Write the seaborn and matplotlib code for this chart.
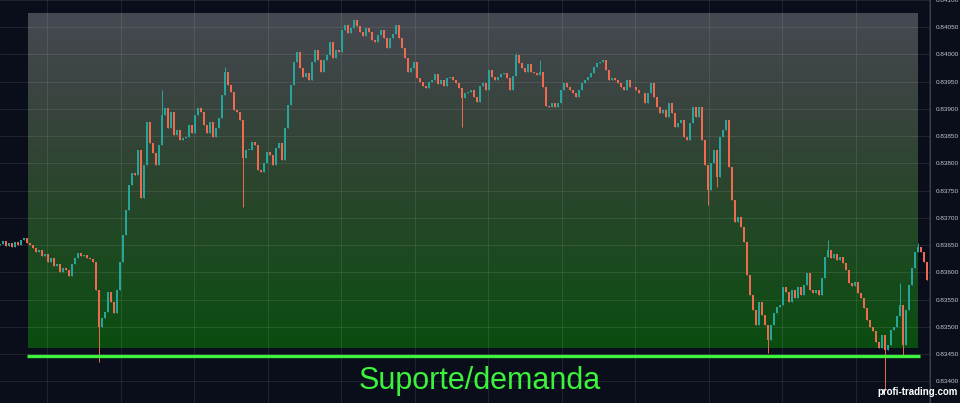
import numpy as np
import pandas as pd
import matplotlib
matplotlib.use("Agg")
import matplotlib.pyplot as plt
import matplotlib.ticker as mtick
from matplotlib.colors import LinearSegmentedColormap
import seaborn as sns

# closing prices, in 1e-5 units (one candle every bar)
closes = [
    83652, 83658, 83649, 83654, 83647, 83656, 83650, 83660, 83663, 83654,
    83650, 83645, 83638, 83641, 83630, 83634,
    83619, 83627, 83612, 83616, 83601, 83608, 83605, 83594, 83616, 83627,
    83636, 83630, 83632, 83627, 83625, 83619,
    83568, 83500, 83517, 83528, 83564, 83546, 83526, 83568, 83619, 83669,
    83715, 83761, 83783, 83779, 83825, 83737, 83797, 83876, 83838, 83819,
    83797, 83834, 83889, 83902, 83865, 83895, 83852, 83861, 83843, 83847,
    83849, 83871, 83856, 83889, 83902, 83895, 83871, 83856, 83876, 83849,
    83865, 83883, 83926, 83968, 83944, 83931, 83898, 83895, 83880, 83810,
    83825, 83825, 83839, 83834, 83788, 83784, 83801, 83821, 83816, 83797,
    83828, 83838, 83806, 83865, 83907, 83944, 83986, 84005, 83975, 83959,
    83966, 83953, 83986, 84008, 83990, 83968, 83990, 83999, 84023, 83994,
    84008, 84005, 84045, 84054, 84039, 84049, 84063, 84052, 84041, 84034,
    84049, 84041, 84027, 84023, 84036, 84045, 84030, 84012, 84030, 84038,
    84054, 84030, 84012, 83994, 83968, 83975, 83986, 83957, 83950, 83942,
    83939, 83950, 83953, 83964, 83946, 83953, 83942, 83957, 83959, 83953,
    83948, 83939, 83920, 83929, 83931, 83935, 83922, 83913, 83942, 83948,
    83935, 83972, 83959, 83953, 83959, 83964, 83966, 83957, 83935, 83961,
    83999, 83984, 83975, 83968, 83983, 83968, 83966, 83962, 83968, 83940,
    83905, 83904, 83911, 83904, 83911, 83935, 83948, 83940, 83935, 83929,
    83922, 83935, 83948, 83953, 83959, 83966, 83977, 83984, 83986, 83990,
    83972, 83953, 83957, 83953, 83948, 83940, 83935, 83953, 83940, 83940,
    83935, 83929, 83929, 83911, 83929, 83948, 83922, 83904, 83893, 83898,
    83885, 83911, 83893, 83867, 83874, 83880, 83849, 83843, 83874, 83904,
    83885, 83904, 83843, 83797, 83751, 83801, 83825, 83775, 83849, 83861,
    83880, 83794, 83733, 83693, 83702, 83684, 83656, 83595, 83559, 83531,
    83504, 83546, 83522, 83504, 83476, 83504, 83526, 83537, 83540, 83573,
    83564, 83546, 83568, 83553, 83573, 83559, 83577, 83599, 83568, 83562,
    83568, 83559, 83590, 83628, 83641, 83627, 83634, 83623, 83628, 83617,
    83605, 83581, 83575, 83582, 83562, 83553, 83535, 83513, 83500, 83493,
    83472, 83461, 83485, 83458, 83467, 83494, 83500, 83520, 83540, 83467,
    83531, 83577, 83608, 83638, 83647, 83638, 83619, 83586,
]
first_open = 83650

# long wicks visible on the chart: candle index -> price
spike_highs = {54: 83935, 75: 83977, 172: 84003, 180: 83990, 276: 83660,
               300: 83581, 306: 83654}
spike_lows = {33: 83436, 81: 83720, 154: 83867, 236: 83724, 239: 83757,
              256: 83452, 295: 83384, 301: 83445}

zone_top = 0.84076
zone_bottom = 0.83462
support_level = 0.83446
y_ticks = [0.83400, 0.83450, 0.83500, 0.83550, 0.83600, 0.83650, 0.83700,
           0.83750, 0.83800, 0.83850, 0.83900, 0.83950, 0.84000, 0.84050,
           0.84100]
label_text = "Suporte/demanda"
watermark = "profi-trading.com"

#------------- build ohlc table -------------#
df = pd.DataFrame({"close": np.array(closes) / 1e5})
df["open"] = df["close"].shift(1).fillna(first_open / 1e5)
df["high"] = df[["open", "close"]].max(axis=1)
df["low"] = df[["open", "close"]].min(axis=1)
for i, v in spike_highs.items():
    df.loc[i, "high"] = max(df.loc[i, "high"], v / 1e5)
for i, v in spike_lows.items():
    df.loc[i, "low"] = min(df.loc[i, "low"], v / 1e5)
df["up"] = df["close"] >= df["open"]

#------------- plot -------------#
bg = "#0a0e1b"
sns.set_theme(style="dark", rc={"axes.facecolor": bg, "figure.facecolor": bg})
plt.rcParams["font.family"] = ["Liberation Sans", "DejaVu Sans"]

fig = plt.figure(figsize=(9.6, 4.03), dpi=100)
ax = fig.add_axes([0, 0, 930 / 960, 1])
ax.set_facecolor(bg)

n = len(df)
ax.set_xlim(0, n)
ax.set_ylim(0.833605, 0.84100)

# gradient zone
cmap = LinearSegmentedColormap.from_list(
    "zone", ["#0a4d10", "#1b4a1f", "#2c452e", "#3a4440", "#464952"])
grad = np.linspace(0, 1, 256).reshape(-1, 1)
ax.imshow(grad, extent=[9.33, 305.7, zone_bottom, zone_top], origin="lower",
          aspect="auto", cmap=cmap, zorder=1)

# grid
ax.xaxis.set_major_locator(mtick.FixedLocator([15.67 + 24.5 * k for k in range(13)]))
ax.yaxis.set_major_locator(mtick.FixedLocator(y_ticks))
ax.grid(True, color="white", alpha=0.09, linewidth=0.8, zorder=2)
ax.set_axisbelow(False)

# candles
up_c, down_c = "#26a69a", "#ef6a4f"
colors = np.where(df["up"], up_c, down_c)
ax.vlines(df.index, df["low"], df["high"], colors=colors, linewidth=0.7, zorder=3)
body = (df["close"] - df["open"]).abs().clip(lower=0.000012)
ax.bar(df.index, body, bottom=df[["open", "close"]].min(axis=1), width=0.6,
       color=colors, linewidth=0, zorder=4)

# support line and label
ax.hlines(support_level, 9.0, 306.7, colors="#3df23d", linewidth=2.4, zorder=5)
fig.text(0.5, 1 - 381 / 403, label_text, ha="center", va="center",
         fontsize=22, color="#3df23d")
fig.text(877 / 960, 1 - 392 / 403, watermark, ha="left", va="center",
         fontsize=7, fontweight="bold", color="white")

# axes styling
ax.yaxis.tick_right()
ax.yaxis.set_major_formatter(mtick.FormatStrFormatter("%.5f"))
ax.tick_params(axis="y", length=0, labelsize=4.6, labelcolor="#c3c6ce", pad=4)
ax.tick_params(axis="x", length=0, labelbottom=False)
for s in ["top", "left", "bottom"]:
    ax.spines[s].set_visible(False)
ax.spines["right"].set_color("#3a3f4c")
ax.spines["right"].set_linewidth(0.8)
ax.set_xlabel("")
ax.set_ylabel("")

fig.savefig("out.png", dpi=100, facecolor=bg)
